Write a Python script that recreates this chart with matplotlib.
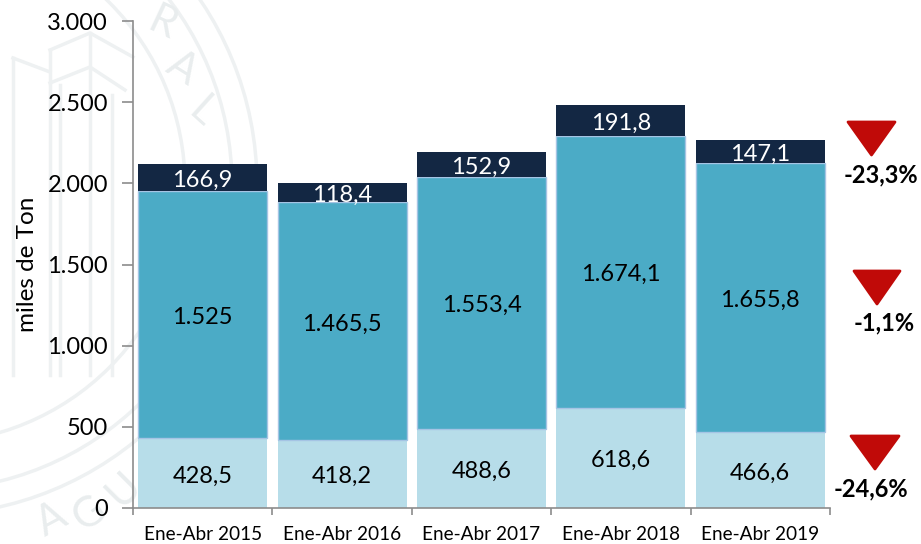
import matplotlib
matplotlib.use('Agg')
import matplotlib.pyplot as plt
from matplotlib.patches import Polygon, Circle
import numpy as np

plt.rcParams['font.family'] = ['Lato', 'DejaVu Sans']

periodos = ['Ene-Abr 2015', 'Ene-Abr 2016', 'Ene-Abr 2017', 'Ene-Abr 2018', 'Ene-Abr 2019']
base = [428.5, 418.2, 488.6, 618.6, 466.6]
medio = [1525, 1465.5, 1553.4, 1674.1, 1655.8]
alto = [166.9, 118.4, 152.9, 191.8, 147.1]
etq_base = ['428,5', '418,2', '488,6', '618,6', '466,6']
etq_medio = ['1.525', '1.465,5', '1.553,4', '1.674,1', '1.655,8']
etq_alto = ['166,9', '118,4', '152,9', '191,8', '147,1']
yticks = [0, 500, 1000, 1500, 2000, 2500, 3000]
ylabels = ['0', '500', '1.000', '1.500', '2.000', '2.500', '3.000']
variaciones = ['-23,3%', '-1,1%', '-24,6%']

W, H = 921, 544
GRIS = '#8c8c8c'
SELLO = '#eef1f2'
fig = plt.figure(figsize=(W / 100, H / 100), dpi=100)

# sello de fondo, en pixeles
bg = fig.add_axes([0, 0, 1, 1], zorder=0)
bg.set_xlim(0, W)
bg.set_ylim(H, 0)
bg.axis('off')
for r in [258, 305, 330]:
    bg.add_patch(Circle((-73, 185), r, fill=False, ec=SELLO, lw=2.5))
for letra, lx, ly, rot in [('R', 162, 24, -25), ('A', 182, 68, -32), ('L', 202, 112, -42),
                           ('A', 52, 520, 28), ('G', 90, 513, 35), ('U', 124, 490, 45)]:
    bg.text(lx, ly, letra, fontsize=30, color='#e9edee', rotation=rot, ha='center', va='center')
for px, py in [([13, 13], [58, 375]), ([50, 50], [50, 375]), ([60, 60], [85, 375]), ([90, 90], [33, 375]),
               ([13, 50], [58, 72]), ([50, 90, 133], [50, 33, 57]), ([50, 90, 125], [83, 67, 90]),
               ([112, 112], [95, 375])]:
    bg.plot(px, py, color=SELLO, lw=2.5)

ax = fig.add_axes([133 / W, 1 - 508 / H, (830 - 133) / W, (508 - 21) / H], zorder=1)
ax.patch.set_alpha(0)
x = np.arange(len(periodos))
ancho = 0.925
base_arr = np.array(base)
medio_arr = np.array(medio)
ax.bar(x, base, ancho, color='#b7dde9')
ax.bar(x, medio, ancho, bottom=base_arr, color='#4babc6', edgecolor='#a5c4e4', linewidth=1)
ax.bar(x, alto, ancho, bottom=base_arr + medio_arr, color='#132743')

# etiquetas algo mas abajo del centro, como en la lamina
desp = dict(xytext=(0, -2), textcoords='offset points', ha='center', va='center', fontsize=17)
for i in x:
    ax.annotate(etq_base[i], (i, base[i] / 2), color='black', **desp)
    ax.annotate(etq_medio[i], (i, base[i] + medio[i] / 2), color='black', **desp)
    ax.annotate(etq_alto[i], (i, base[i] + medio[i] + alto[i] / 2), color='white', **desp)

ax.set_xlim(-0.5, 4.5)
ax.set_ylim(0, 3000)
ax.set_yticks(yticks)
ax.set_yticklabels(ylabels, fontsize=17)
ax.set_xticks(np.arange(-0.5, 5, 1))
ax.set_xticklabels([])
ax.set_xticks(x, minor=True)
ax.set_xticklabels(periodos, minor=True, fontsize=13.7)
ax.tick_params(axis='x', which='minor', length=0, pad=13)
ax.tick_params(axis='x', which='major', direction='out', length=5, color=GRIS, width=1.2)
ax.tick_params(axis='y', direction='out', length=8, color=GRIS, width=1.2, pad=10)
ax.set_ylabel('miles de Ton', fontsize=17.5, labelpad=7)
ax.spines['top'].set_visible(False)
ax.spines['right'].set_visible(False)
ax.spines['left'].set_color(GRIS)
ax.spines['bottom'].set_color(GRIS)
ax.spines['left'].set_linewidth(1.2)
ax.spines['bottom'].set_linewidth(1.2)

# triangulos de variacion
over = fig.add_axes([0, 0, 1, 1], zorder=2)
over.set_xlim(0, W)
over.set_ylim(H, 0)
over.axis('off')
tri = [(848, 122, 895, 155), (854, 271, 900, 304), (851, 436, 899, 469)]
txt = [(881, 175), (884, 323), (871, 489)]
for (x0, y0, x1, y1), (tx, ty), v in zip(tri, txt, variaciones):
    over.add_patch(Polygon([(x0, y0), (x1, y0), ((x0 + x1) / 2, y1)], closed=True,
                           fc='#c00a08', ec='#c00a08', lw=2, joinstyle='round'))
    over.text(tx, ty, v, ha='center', va='center', fontsize=17, fontweight='bold', color='black')

fig.savefig('out.png', dpi=100)
